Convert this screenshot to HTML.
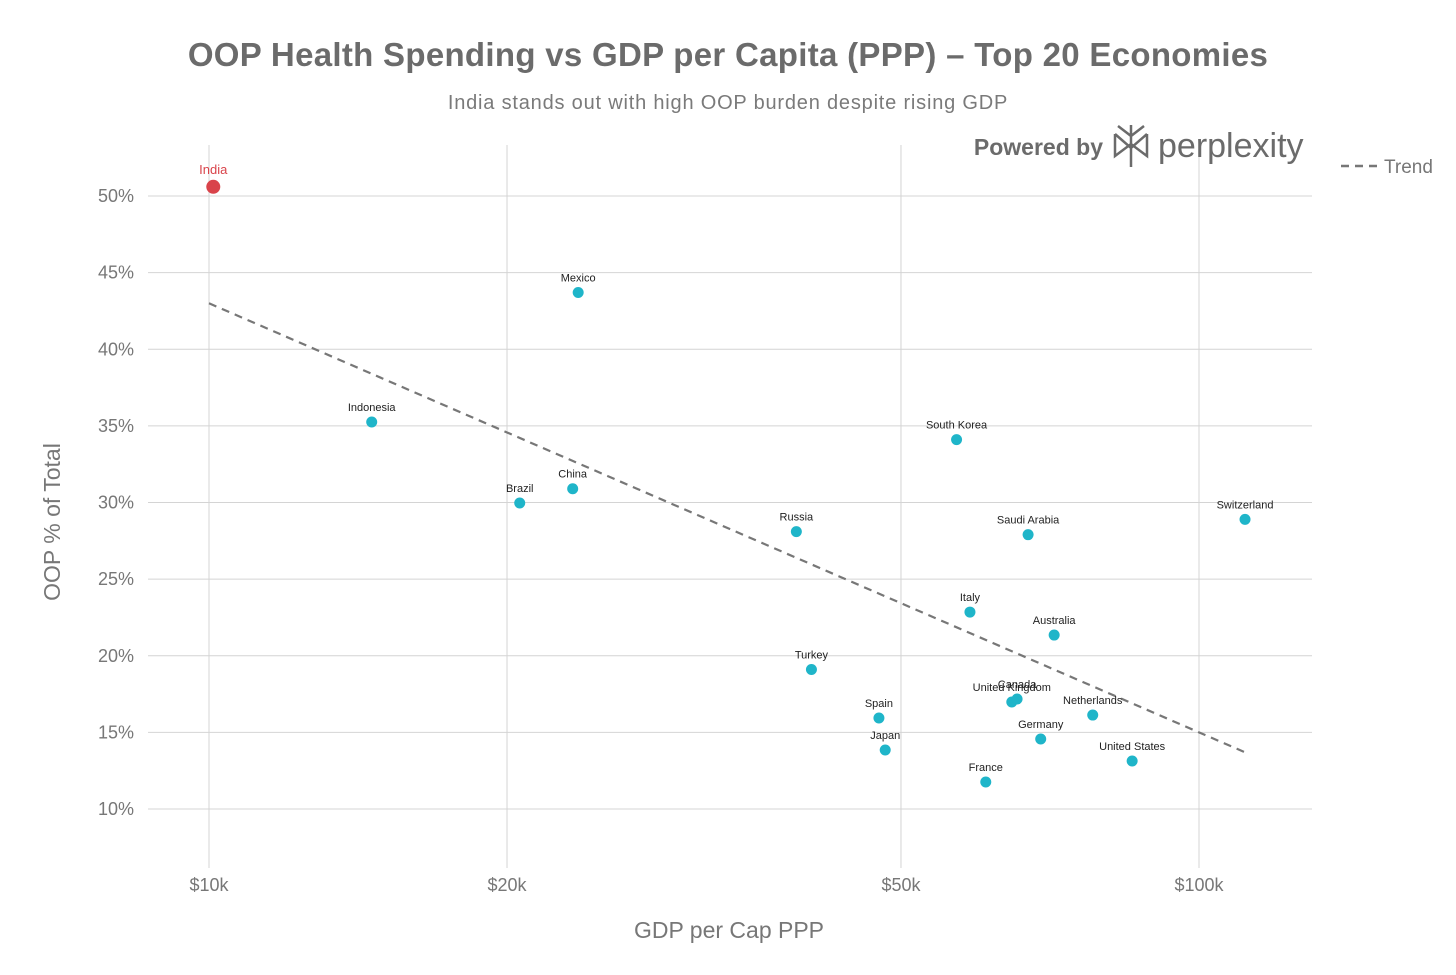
<!DOCTYPE html>
<html><head><meta charset="utf-8"><style>
body{margin:0;background:#fff;font-family:"Liberation Sans",sans-serif}
svg text{font-family:"Liberation Sans",sans-serif}
</style></head><body>
<svg id="chart" width="1456" height="970" xmlns="http://www.w3.org/2000/svg">
<text x="728" y="66" text-anchor="middle" font-size="33" font-weight="bold" fill="#6b6b6b" letter-spacing="0.3">OOP Health Spending vs GDP per Capita (PPP) – Top 20 Economies</text>
<text x="728" y="109" text-anchor="middle" font-size="20" fill="#7a7a7a" letter-spacing="0.8">India stands out with high OOP burden despite rising GDP</text>
<g id="grid"></g>
<g id="trend"></g>
<g id="points"></g>
<g>
<text x="1103" y="155" text-anchor="end" font-size="23" font-weight="bold" fill="#6b6b6b">Powered by</text>
<g stroke="#6b6b6b" stroke-width="2.5" fill="none"><path d="M1131 125v42M1115 134l16 14 16-14M1115 134v22l16-12 16 12v-22M1118 126l13 10 13-10"/></g>
<text x="1158" y="157" font-size="34" fill="#6b6b6b">perplexity</text>
</g>
<g>
<line x1="1341" y1="166" x2="1377" y2="166" stroke="#777" stroke-width="2.5" stroke-dasharray="8,6"/>
<text x="1384" y="173" font-size="19" fill="#777">Trend</text>
</g>
<text x="729" y="938" text-anchor="middle" font-size="23" fill="#777">GDP per Cap PPP</text>
<text transform="translate(60,522) rotate(-90)" text-anchor="middle" font-size="23" fill="#777">OOP % of Total</text>
</svg>
<script>
const countries=["India","Mexico","Indonesia","Brazil","China","Russia","South Korea","Saudi Arabia","Switzerland","Italy","Australia","Turkey","Spain","Japan","United Kingdom","Canada","Netherlands","Germany","France","United States"];
const gdp=[10100,23600,14600,20600,23300,39200,56900,67200,111300,58700,71400,40600,47500,48200,64700,65500,78100,69200,60900,85600];
const oop=[50.6,43.7,35.25,29.97,30.9,28.1,34.1,27.9,28.9,22.85,21.35,19.1,15.94,13.85,16.98,17.18,16.13,14.57,11.76,13.13];
const trendX=[10000,111300];
const trendY=[43.0,13.7];
const xTicks=[10000,20000,50000,100000];
const xTickLabels=["$10k","$20k","$50k","$100k"];
const yTicks=[10,15,20,25,30,35,40,45,50];
const yTickLabels=["10%","15%","20%","25%","30%","35%","40%","45%","50%"];
const NS="http://www.w3.org/2000/svg";
function xs(v){return 209+990*Math.log10(v/10000);}
function ys(v){return 809-(v-10)*15.325;}
function mk(tag,attrs,parent){const e=document.createElementNS(NS,tag);for(const k in attrs)e.setAttribute(k,attrs[k]);parent.appendChild(e);return e;}
const grid=document.getElementById('grid');
yTicks.forEach((t,i)=>{
 const l=mk('line',{x1:148,x2:1312,y1:ys(t),y2:ys(t),stroke:'#d4d4d4','stroke-width':1},grid);
 
 
 const tx=mk('text',{x:134,y:ys(t)+6,'text-anchor':'end','font-size':18,fill:'#777'},grid);
 tx.textContent=yTickLabels[i];
 
 
});
xTicks.forEach((t,i)=>{
 const l=mk('line',{x1:xs(t),x2:xs(t),y1:145,y2:868,stroke:'#d4d4d4','stroke-width':1},grid);
 
 
 const tx=mk('text',{x:xs(t),y:891,'text-anchor':'middle','font-size':18,fill:'#777'},grid);
 tx.textContent=xTickLabels[i];
 
 
});
const tl=mk('line',{x1:xs(trendX[0]),y1:ys(trendY[0]),x2:xs(trendX[1]),y2:ys(trendY[1]),stroke:'#777','stroke-width':2.2,'stroke-dasharray':'8,6'},document.getElementById('trend'));


const pg=document.getElementById('points');
countries.forEach((c,i)=>{
 const india=c==="India";
 const cx=xs(gdp[i]),cy=ys(oop[i]);
 const p=mk('circle',{cx:cx,cy:cy,r:india?7:5.5,fill:india?'#d9434a':'#1fb5c9'},pg);
 
 
 const t=mk('text',{x:cx,y:cy-(india?13:11),'text-anchor':'middle','font-size':india?13:11,fill:india?'#d9434a':'#222'},pg);
 t.textContent=c;
 
 
});
</script>
</body></html>
